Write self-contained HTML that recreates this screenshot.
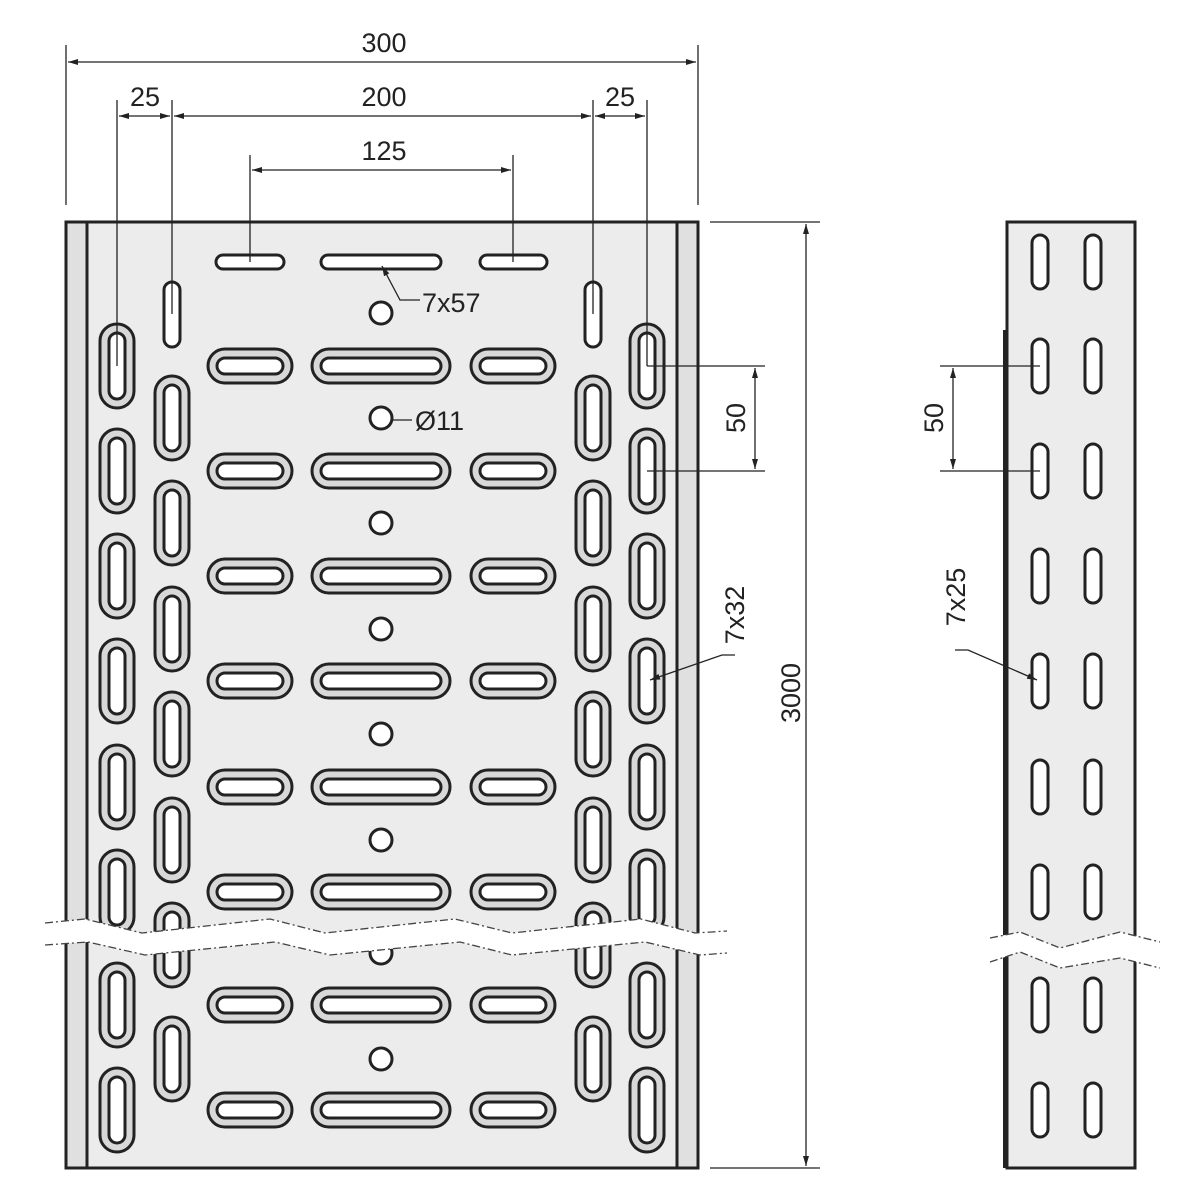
<!DOCTYPE html>
<html><head><style>body{margin:0;background:#fff}svg{display:block}text{font-family:"Liberation Sans",sans-serif;font-size:27px;fill:#222}</style></head><body>
<svg width="1200" height="1200" viewBox="0 0 1200 1200" xmlns="http://www.w3.org/2000/svg">
<defs>
<marker id="a" viewBox="0 0 10 10" refX="10" refY="5" markerWidth="10" markerHeight="10" orient="auto-start-reverse" markerUnits="userSpaceOnUse"><path d="M0,2 L10,5 L0,8z" fill="#222"/></marker>
<g id="hs"><rect x="-42" y="-17" width="84" height="34" rx="17" fill="#d8d8d8" stroke="#222" stroke-width="3"/><rect x="-33" y="-8" width="66" height="16" rx="8" fill="#fff" stroke="#222" stroke-width="3"/></g>
<g id="hm"><rect x="-69" y="-17" width="138" height="34" rx="17" fill="#d8d8d8" stroke="#222" stroke-width="3"/><rect x="-60" y="-8" width="120" height="16" rx="8" fill="#fff" stroke="#222" stroke-width="3"/></g>
<g id="vs"><rect x="-17" y="-42" width="34" height="84" rx="17" fill="#d8d8d8" stroke="#222" stroke-width="3"/><rect x="-8" y="-33" width="16" height="66" rx="8" fill="#fff" stroke="#222" stroke-width="3"/></g>
<circle id="ho" r="11" fill="#fff" stroke="#222" stroke-width="3"/>
<rect id="ss" x="-8" y="-27" width="16" height="54" rx="8" fill="#fff" stroke="#222" stroke-width="3"/>
</defs>
<rect x="66" y="222" width="632" height="946" fill="#ececec" stroke="#222" stroke-width="3"/>
<rect x="66" y="222" width="21" height="946" fill="#e0e0e0" stroke="#222" stroke-width="3"/>
<rect x="677" y="222" width="21" height="946" fill="#e0e0e0" stroke="#222" stroke-width="3"/>
<g fill="#fff" stroke="#222" stroke-width="3">
<rect x="216" y="255" width="68" height="14" rx="7"/><rect x="321" y="255" width="120" height="14" rx="7"/><rect x="480" y="255" width="67" height="14" rx="7"/>
<rect x="164" y="282" width="16" height="65" rx="8"/><rect x="585" y="282" width="16" height="65" rx="8"/>
</g>
<g>
<use href="#hs" x="250" y="366"/><use href="#hm" x="381" y="366"/><use href="#hs" x="513" y="366"/>
<use href="#hs" x="250" y="471"/><use href="#hm" x="381" y="471"/><use href="#hs" x="513" y="471"/>
<use href="#hs" x="250" y="576"/><use href="#hm" x="381" y="576"/><use href="#hs" x="513" y="576"/>
<use href="#hs" x="250" y="681"/><use href="#hm" x="381" y="681"/><use href="#hs" x="513" y="681"/>
<use href="#hs" x="250" y="787"/><use href="#hm" x="381" y="787"/><use href="#hs" x="513" y="787"/>
<use href="#hs" x="250" y="892"/><use href="#hm" x="381" y="892"/><use href="#hs" x="513" y="892"/>
<use href="#hs" x="250" y="1005"/><use href="#hm" x="381" y="1005"/><use href="#hs" x="513" y="1005"/>
<use href="#hs" x="250" y="1110"/><use href="#hm" x="381" y="1110"/><use href="#hs" x="513" y="1110"/>
<use href="#ho" x="381" y="313"/><use href="#ho" x="381" y="418"/><use href="#ho" x="381" y="523"/><use href="#ho" x="381" y="629"/><use href="#ho" x="381" y="734"/><use href="#ho" x="381" y="840"/><use href="#ho" x="381" y="953"/><use href="#ho" x="381" y="1059"/>
<use href="#vs" x="117" y="366"/><use href="#vs" x="117" y="471"/><use href="#vs" x="117" y="576"/><use href="#vs" x="117" y="681"/><use href="#vs" x="117" y="787"/><use href="#vs" x="117" y="892"/><use href="#vs" x="117" y="1005"/><use href="#vs" x="117" y="1110"/>
<use href="#vs" x="647" y="366"/><use href="#vs" x="647" y="471"/><use href="#vs" x="647" y="576"/><use href="#vs" x="647" y="681"/><use href="#vs" x="647" y="787"/><use href="#vs" x="647" y="892"/><use href="#vs" x="647" y="1005"/><use href="#vs" x="647" y="1110"/>
<use href="#vs" x="172" y="418"/><use href="#vs" x="172" y="523"/><use href="#vs" x="172" y="629"/><use href="#vs" x="172" y="734"/><use href="#vs" x="172" y="840"/><use href="#vs" x="172" y="945"/><use href="#vs" x="172" y="1059"/>
<use href="#vs" x="593" y="418"/><use href="#vs" x="593" y="523"/><use href="#vs" x="593" y="629"/><use href="#vs" x="593" y="734"/><use href="#vs" x="593" y="840"/><use href="#vs" x="593" y="945"/><use href="#vs" x="593" y="1059"/>
</g>
<polygon points="45,923 85,919 142,933 270,919 325,933 455,919 512,933 641,919 695,933 727,931 727,953 700,955 645,942 512,955 460,942 330,955 275,942 145,955 88,942 45,945" fill="#fff"/>
<g fill="none" stroke="#444" stroke-width="1.3" stroke-dasharray="8,3,2,3">
<polyline points="45,923 85,919 142,933 270,919 325,933 455,919 512,933 641,919 695,933 727,931"/>
<polyline points="45,945 88,942 145,955 275,942 330,955 460,942 512,955 645,942 700,955 727,953"/>
</g>
<!-- side view -->
<rect x="1007" y="222" width="128" height="946" fill="#ececec" stroke="#222" stroke-width="3"/>
<line x1="1005" y1="330" x2="1005" y2="1168" stroke="#222" stroke-width="4"/>
<g>
<use href="#ss" x="1040" y="262"/><use href="#ss" x="1093" y="262"/>
<use href="#ss" x="1040" y="366"/><use href="#ss" x="1093" y="366"/>
<use href="#ss" x="1040" y="471"/><use href="#ss" x="1093" y="471"/>
<use href="#ss" x="1040" y="576"/><use href="#ss" x="1093" y="576"/>
<use href="#ss" x="1040" y="681"/><use href="#ss" x="1093" y="681"/>
<use href="#ss" x="1040" y="787"/><use href="#ss" x="1093" y="787"/>
<use href="#ss" x="1040" y="892"/><use href="#ss" x="1093" y="892"/>
<use href="#ss" x="1040" y="1005"/><use href="#ss" x="1093" y="1005"/>
<use href="#ss" x="1040" y="1110"/><use href="#ss" x="1093" y="1110"/>
</g>
<polygon points="990,938 1020,932 1060,948 1120,932 1160,942 1160,968 1120,958 1060,968 1020,952 990,962" fill="#fff"/>
<g fill="none" stroke="#444" stroke-width="1.3" stroke-dasharray="8,3,2,3">
<polyline points="990,938 1020,932 1060,948 1120,932 1160,942"/>
<polyline points="990,962 1020,952 1060,968 1120,958 1160,968"/>
</g>
<g stroke="#222" stroke-width="1.3" fill="none">
<line x1="66" y1="45" x2="66" y2="205"/><line x1="698" y1="45" x2="698" y2="205"/>
<line x1="68" y1="62" x2="696" y2="62" marker-start="url(#a)" marker-end="url(#a)"/>
<line x1="117" y1="100" x2="117" y2="366"/><line x1="172" y1="100" x2="172" y2="314"/>
<line x1="593" y1="100" x2="593" y2="314"/><line x1="647" y1="100" x2="647" y2="366"/>
<line x1="119" y1="116" x2="170" y2="116" marker-start="url(#a)" marker-end="url(#a)"/>
<line x1="174" y1="116" x2="591" y2="116" marker-start="url(#a)" marker-end="url(#a)"/>
<line x1="595" y1="116" x2="645" y2="116" marker-start="url(#a)" marker-end="url(#a)"/>
<line x1="250" y1="155" x2="250" y2="262"/><line x1="513" y1="155" x2="513" y2="262"/>
<line x1="252" y1="170" x2="511" y2="170" marker-start="url(#a)" marker-end="url(#a)"/>
<line x1="710" y1="222" x2="820" y2="222"/><line x1="710" y1="1168" x2="820" y2="1168"/>
<line x1="806" y1="224" x2="806" y2="1166" marker-start="url(#a)" marker-end="url(#a)"/>
<line x1="647" y1="366" x2="765" y2="366"/><line x1="647" y1="471" x2="765" y2="471"/>
<line x1="755" y1="368" x2="755" y2="469" marker-start="url(#a)" marker-end="url(#a)"/>
<line x1="940" y1="366" x2="1040" y2="366"/><line x1="940" y1="471" x2="1040" y2="471"/>
<line x1="953" y1="368" x2="953" y2="469" marker-start="url(#a)" marker-end="url(#a)"/>
<polyline points="420,300 400,300 382,266" marker-end="url(#a)"/>
<line x1="392" y1="420" x2="412" y2="420"/>
<polyline points="735,655 722,655 650,680" marker-end="url(#a)"/>
<polyline points="955,650 968,650 1037,680" marker-end="url(#a)"/>
</g>
<text x="384" y="52" text-anchor="middle">300</text>
<text x="145" y="106" text-anchor="middle">25</text>
<text x="384" y="106" text-anchor="middle">200</text>
<text x="620" y="106" text-anchor="middle">25</text>
<text x="384" y="160" text-anchor="middle">125</text>
<text x="422" y="312">7x57</text>
<text x="415" y="430">Ø11</text>
<text transform="translate(745,418) rotate(-90)" text-anchor="middle">50</text>
<text transform="translate(744,615) rotate(-90)" text-anchor="middle">7x32</text>
<text transform="translate(800,693) rotate(-90)" text-anchor="middle">3000</text>
<text transform="translate(943,418) rotate(-90)" text-anchor="middle">50</text>
<text transform="translate(965,597) rotate(-90)" text-anchor="middle">7x25</text>
</svg>
</body></html>
